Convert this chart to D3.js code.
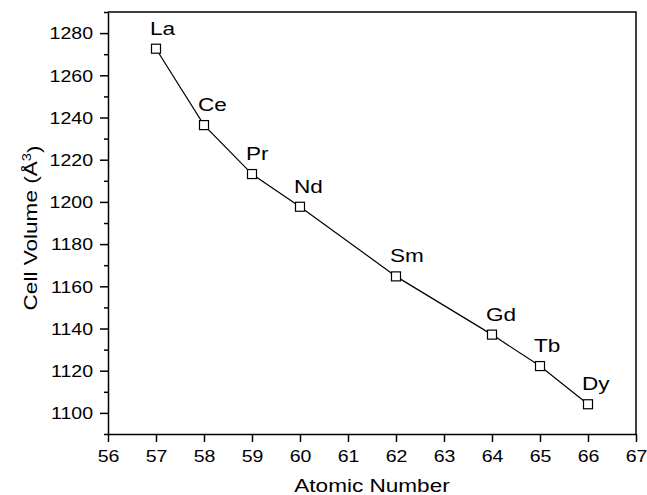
<!DOCTYPE html>
<html>

<head>
    <title>Cell Volume vs Atomic Number</title>
    <style>
        body {
            margin: 0;
            background: #fff;
        }

        text {
            font-family: "Liberation Sans", Arial, sans-serif;
            fill: #000;
        }
    </style>
    <script src="https://d3js.org/d3.v7.min.js"></script>
</head>

<body>
    <script>
        // data
        let elements = ["La", "Ce", "Pr", "Nd", "Sm", "Gd", "Tb", "Dy"];
        let atomicNumbers = [57, 58, 59, 60, 62, 64, 65, 66];
        let cellVolumes = [1272.6, 1236.4, 1213.2, 1197.7, 1164.7, 1137.1, 1122.2, 1104.1];

        let xTicks = [56, 57, 58, 59, 60, 61, 62, 63, 64, 65, 66, 67];
        let yTicks = [1100, 1120, 1140, 1160, 1180, 1200, 1220, 1240, 1260, 1280];
        let yMinorTicks = [1090, 1110, 1130, 1150, 1170, 1190, 1210, 1230, 1250, 1270, 1290];

        let width = 647;
        let height = 495;
        let margin = { top: 12, right: 11, bottom: 61, left: 108 };
        let sx = 1.22; // text in the picture is wider than Arial

        let svg = d3.select("body")
            .append("svg")
            .attr("width", width)
            .attr("height", height);

        let x = d3.scaleLinear()
            .domain([56, 67])
            .range([margin.left, width - margin.right]);

        let y = d3.scaleLinear()
            .domain([1090, 1290])
            .range([height - margin.bottom, margin.top]);

        let points = elements.map(function (el, i) {
            return { name: el, x: atomicNumbers[i], y: cellVolumes[i] };
        });

        // minor ticks on the y axis
        svg.append("g")
            .attr("transform", `translate(${margin.left},0)`)
            .call(d3.axisLeft(y).tickValues(yMinorTicks).tickSize(4).tickFormat(""))
            .call(g => g.select(".domain").remove())
            .selectAll("line").attr("stroke-width", 1.5);

        // y axis
        let yAxis = svg.append("g")
            .attr("transform", `translate(${margin.left},0)`)
            .call(d3.axisLeft(y).tickValues(yTicks).tickSize(8).tickSizeOuter(0).tickFormat(d3.format("d")));
        yAxis.select(".domain").attr("stroke-width", 1.5);
        yAxis.selectAll("line").attr("stroke-width", 1.5);
        yAxis.selectAll("text")
            .attr("x", -15)
            .attr("dy", "0.36em")
            .attr("transform", "translate(-15,0) scale(" + sx + ",1) translate(15,0)")
            .style("font-size", "16px");

        // x axis
        let xAxis = svg.append("g")
            .attr("transform", `translate(0,${height - margin.bottom})`)
            .call(d3.axisBottom(x).tickValues(xTicks).tickSize(8).tickSizeOuter(0).tickFormat(d3.format("d")));
        xAxis.select(".domain").attr("stroke-width", 1.5);
        xAxis.selectAll("line").attr("stroke-width", 1.5);
        xAxis.selectAll("text")
            .attr("y", 28)
            .attr("dy", 0)
            .attr("transform", "scale(" + sx + ",1)")
            .style("font-size", "16px");

        // top and right frame
        svg.append("path")
            .attr("d", `M${margin.left},${margin.top}H${width - margin.right}V${height - margin.bottom}`)
            .attr("fill", "none")
            .attr("stroke", "#000")
            .attr("stroke-width", 1.5);

        // axis titles
        svg.append("text")
            .attr("transform", `translate(${(margin.left + width - margin.right) / 2},492) scale(${sx},1)`)
            .attr("text-anchor", "middle")
            .style("font-size", "18.5px")
            .text("Atomic Number");

        let yTitle = svg.append("text")
            .attr("transform", `translate(37,228) rotate(-90) scale(${sx},1)`)
            .attr("text-anchor", "middle")
            .style("font-size", "18.5px");
        yTitle.append("tspan").text("Cell Volume (Å");
        yTitle.append("tspan").attr("dy", "-0.5em").style("font-size", "12px").text("3");
        yTitle.append("tspan").attr("dy", "0.5em").text(")");

        // line
        let line = d3.line()
            .x(d => x(d.x))
            .y(d => y(d.y));

        svg.append("path")
            .datum(points)
            .attr("d", line)
            .attr("fill", "none")
            .attr("stroke", "#000")
            .attr("stroke-width", 1.2);

        // square markers
        svg.selectAll(".marker")
            .data(points)
            .enter()
            .append("rect")
            .attr("class", "marker")
            .attr("x", d => x(d.x) - 4.5)
            .attr("y", d => y(d.y) - 4.5)
            .attr("width", 9)
            .attr("height", 9)
            .attr("fill", "#fff")
            .attr("stroke", "#000")
            .attr("stroke-width", 1.2);

        // element labels
        svg.selectAll(".label")
            .data(points)
            .enter()
            .append("text")
            .attr("class", "label")
            .attr("transform", d => `translate(${x(d.x) - 6},${y(d.y) - 14}) scale(${sx},1)`)
            .style("font-size", "18.5px")
            .text(d => d.name);
    </script>
</body>

</html>
